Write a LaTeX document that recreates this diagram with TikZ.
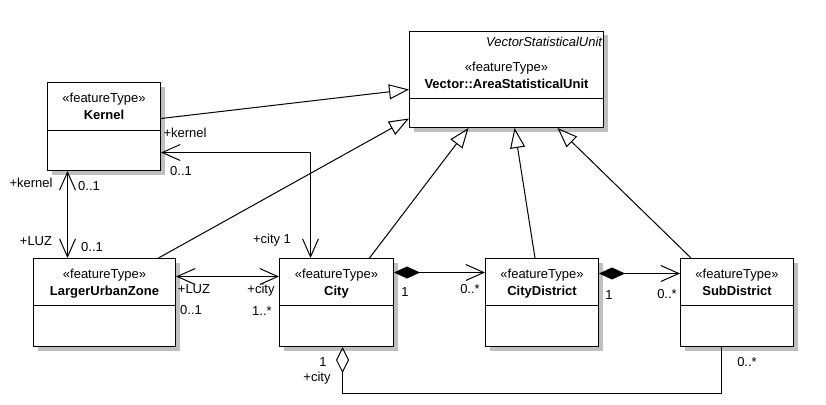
\documentclass[tikz,border=0pt]{standalone}
\usepackage{fontspec}
\setmainfont{Liberation Sans}
\usetikzlibrary{arrows.meta,shadows}

\begin{document}
\begin{tikzpicture}[x=1pt,y=-1pt,line width=1pt,
		every node/.style={font=\fontsize{13}{17}\selectfont},
		lbl/.style={inner sep=0pt}]
		\tikzset{cls/.style={draw,fill=white,anchor=north west,inner sep=0pt,minimum height=88pt,
				drop shadow={shadow xshift=4pt,shadow yshift=-4pt,fill=black!25,opacity=1}}};
		\tikzset{title/.style={anchor=north,align=center,inner sep=0pt,yshift=-10.5pt}};
		\tikzset{gen/.style={-{Triangle[open,length=20pt,width=15pt]}}};
		\tikzset{nav/.style={{Straight Barb[length=18pt,width=16pt]}-{Straight Barb[length=18pt,width=16pt]}}};
		\tikzset{comp/.style={{Diamond[length=26pt,width=12pt]}-{Straight Barb[length=18pt,width=16pt]}}};
		\tikzset{agg/.style={{Diamond[open,length=26pt,width=13pt]}-}};
		
		\useasboundingbox (0,0) rectangle (826,404);
		\fill[white] (0,0) rectangle (826,404);
		
		% classes
		\node (asu) at (409,31) [cls,minimum width=194pt,minimum height=96pt,
			label={[anchor=north east,inner sep=0pt,yshift=-6pt,xshift=-1pt]north east:\textit{VectorStatisticalUnit}},
			label={[title,yshift=-20pt]north:«featureType»\\\textbf{Vector::AreaStatisticalUnit}}]{};
		\node (kernel) at (47,82) [cls,minimum width=113pt,
			label={[title]north:«featureType»\\\textbf{Kernel}}]{};
		\node (luz) at (33,258) [cls,minimum width=142pt,
			label={[title]north:«featureType»\\\textbf{LargerUrbanZone}}]{};
		\node (city) at (279,258) [cls,minimum width=114pt,
			label={[title]north:«featureType»\\\textbf{City}}]{};
		\node (cd) at (485,258) [cls,minimum width=113pt,
			label={[title]north:«featureType»\\\textbf{CityDistrict}}]{};
		\node (sd) at (680,258) [cls,minimum width=113pt,
			label={[title]north:«featureType»\\\textbf{SubDistrict}}]{};
		
		% compartment lines
		\draw (asu.west |- 0,98) -- (asu.east |- 0,98);
		\draw (kernel.west |- 0,130) -- (kernel.east |- 0,130);
		\foreach \c in {luz,city,cd,sd}
		\draw (\c.west |- 0,305) -- (\c.east |- 0,305);
		
		% generalisations
		\draw[gen] ([yshift=8pt]kernel.east) -- ([yshift=-10pt]asu.west);
		\draw[gen] ([xshift=54pt]luz.north) -- ([yshift=-39pt]asu.west);
		\draw[gen] ([xshift=33pt]city.north) -- ([xshift=-38pt]asu.south);
		\draw[gen] ([xshift=-7pt]cd.north) -- ([xshift=8pt]asu.south);
		\draw[gen] ([xshift=-46pt]sd.north) -- ([xshift=51pt]asu.south);
		
		% associations
		\draw[nav] ([xshift=-36.5pt]kernel.south) -- ([xshift=-37pt]luz.north);
		\draw[nav] ([yshift=-26pt]kernel.east) -| ([xshift=-26pt]city.north);
		\draw[nav] ([yshift=26pt]luz.east) -- ([yshift=26pt]city.west);
		\draw[comp] ([yshift=30pt]city.east) -- ([yshift=30pt]cd.west);
		\draw[comp] ([yshift=29pt]cd.east) -- ([yshift=29pt]sd.west);
		\draw[agg] ([xshift=6pt]city.south) -- ++(0,46) -| ([xshift=-15.5pt]sd.south);
		
		% roles and multiplicities
		\node (kc1) at (185,133) [lbl]{+kernel};
		\node (kc2) at (181,171) [lbl]{0..1};
		\node (kc3) at (272,240) [lbl]{+city 1};
		\node (kl1) at (31,183) [lbl]{+kernel};
		\node (kl2) at (89,186) [lbl]{0..1};
		\node (kl3) at (36,241) [lbl]{+LUZ};
		\node (kl4) at (92,247) [lbl]{0..1};
		\node (lc1) at (194,289) [lbl]{+LUZ};
		\node (lc2) at (191,310) [lbl]{0..1};
		\node (lc3) at (261,290) [lbl]{+city};
		\node (lc4) at (262,311) [lbl]{1..*};
		\node (cc1) at (405,292) [lbl]{1};
		\node (cc2) at (470,289) [lbl]{0..*};
		\node (ds1) at (609,295) [lbl]{1};
		\node (ds2) at (667,294) [lbl]{0..*};
		\node (cs1) at (323,362) [lbl]{1};
		\node (cs2) at (317,378) [lbl]{+city};
		\node (cs3) at (747,362) [lbl]{0..*};
	\end{tikzpicture}
\end{document}
